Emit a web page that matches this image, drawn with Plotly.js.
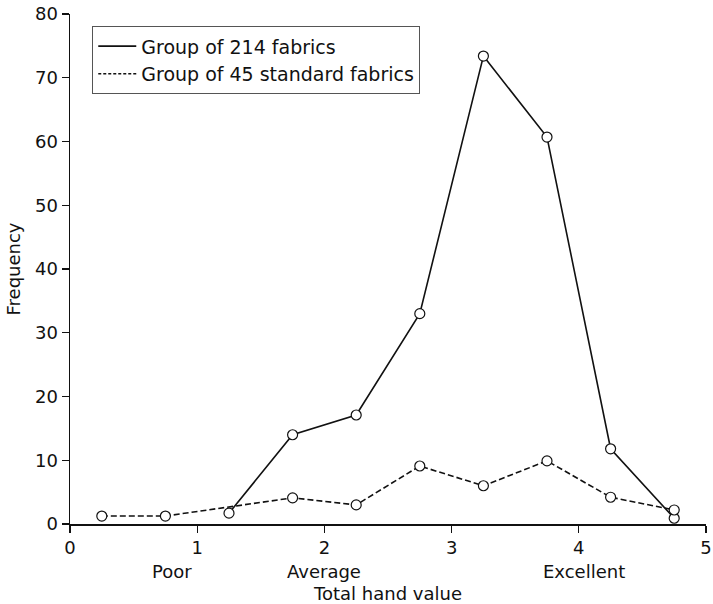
<!DOCTYPE html>
<html><head><meta charset="utf-8">
<script src="https://cdn.plot.ly/plotly-3.0.1.min.js"></script>
<style>html,body{margin:0;padding:0;background:#fff}</style>
</head><body>
<div id="chart" style="width:713px;height:604px"></div>
<script>
const solidX = [1.25, 1.75, 2.25, 2.75, 3.25, 3.75, 4.25, 4.75];
const solidY = [1.7, 14.0, 17.1, 33.0, 73.4, 60.7, 11.8, 0.9];
const dashX = [0.25, 0.75, 1.75, 2.25, 2.75, 3.25, 3.75, 4.25, 4.75];
const dashY = [1.25, 1.25, 4.1, 3.0, 9.1, 6.0, 9.9, 4.2, 2.2];
const seriesNames = ["Group of 214 fabrics", "Group of 45 standard fabrics"];
const qualityLabels = ["Poor", "Average", "Excellent"];
const qualityPos = [0.8, 2, 4.04];
const xTicks = [0, 1, 2, 3, 4, 5];
const yTicks = [0, 10, 20, 30, 40, 50, 60, 70, 80];

const font = "DejaVu Sans, Liberation Sans, sans-serif";
const fs = 18;
const marker = {symbol: "circle", size: 10, color: "#fff", line: {color: "#111", width: 1.2}};

const traces = [
  {x: solidX, y: solidY, mode: "lines+markers", line: {color: "#111", width: 1.6}, marker: marker, showlegend: false, cliponaxis: false},
  {x: dashX, y: dashY, mode: "lines+markers", line: {color: "#111", width: 1.6, dash: "6px,3px"}, marker: marker, showlegend: false, cliponaxis: false},
  {x: [null], y: [null], mode: "lines", name: seriesNames[0], line: {color: "#111", width: 1.6}},
  {x: [null], y: [null], mode: "lines", name: seriesNames[1], line: {color: "#111", width: 1.4, dash: "3px,2px"}}
];

const annotations = qualityLabels.map((t, i) => ({
  x: qualityPos[i], xref: "x", y: -0.068, yref: "paper", yanchor: "top",
  text: t, showarrow: false, font: {family: font, size: fs, color: "#111"}
}));

const layout = {
  width: 713, height: 604,
  margin: {l: 70, r: 7, t: 14, b: 80},
  paper_bgcolor: "#fff", plot_bgcolor: "#fff",
  font: {family: font, size: fs, color: "#111"},
  xaxis: {
    range: [0, 5], tickvals: xTicks, ticktext: xTicks.map(String),
    showgrid: false, zeroline: false, showline: true, linecolor: "#111", linewidth: 1.5,
    ticks: "outside", ticklen: 7, tickcolor: "#111", tickwidth: 1.3,
    tickfont: {family: font, size: fs, color: "#111"},
    title: {text: "Total hand value", font: {family: font, size: fs, color: "#111"}, standoff: 30}
  },
  yaxis: {
    range: [0, 80], tickvals: yTicks,
    showgrid: false, zeroline: false, showline: true, linecolor: "#111", linewidth: 1.5,
    ticks: "outside", ticklen: 7, tickcolor: "#111", tickwidth: 1.3,
    tickfont: {family: font, size: fs, color: "#111"},
    title: {text: "Frequency", font: {family: font, size: fs, color: "#111"}, standoff: 9}
  },
  legend: {
    x: 0.035, y: 0.976, xanchor: "left", yanchor: "top",
    bordercolor: "#555", borderwidth: 1, bgcolor: "#fff",
    font: {family: font, size: 19, color: "#111"},
    tracegroupgap: 0, itemwidth: 38
  },
  annotations: annotations,
  showlegend: true
};

Plotly.newPlot("chart", traces, layout, {displayModeBar: false, staticPlot: true});
</script>
</body></html>
